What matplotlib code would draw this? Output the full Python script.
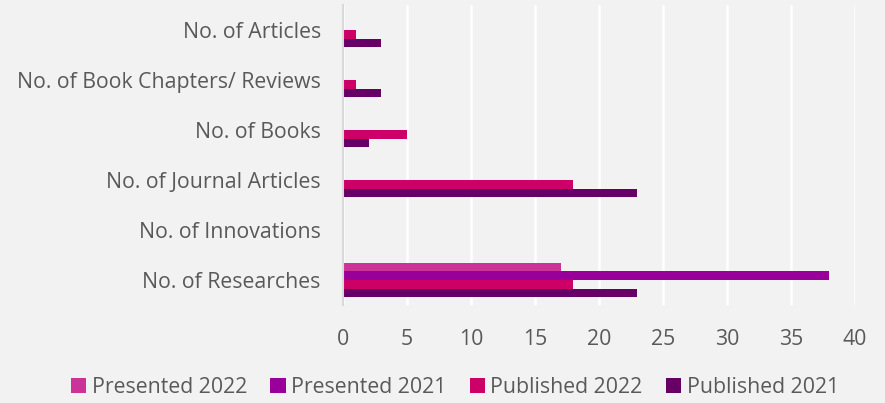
import matplotlib.pyplot as plt
import numpy as np

# ----------------------------------------------------------------------------
# Data (top to bottom in the chart)
# ----------------------------------------------------------------------------
categories = ["No. of Articles", "No. of Book Chapters/ Reviews", "No. of Books",
              "No. of Journal Articles", "No. of Innovations", "No. of Researches"]
presented_2022 = [0, 0, 0, 0, 0, 17]
presented_2021 = [0, 0, 0, 0, 0, 38]
published_2022 = [1, 1, 5, 18, 0, 18]
published_2021 = [3, 3, 2, 23, 0, 23]

series = [
    ("Presented 2022", presented_2022, "#CC3399"),
    ("Presented 2021", presented_2021, "#990099"),
    ("Published 2022", published_2022, "#CC0066"),
    ("Published 2021", published_2021, "#660066"),
]

plt.rcParams["font.family"] = ["Open Sans", "DejaVu Sans"]
text_color = "#595959"
bg = "#F2F2F2"
fs = 15.3

fig = plt.figure(figsize=(8.85, 4.03), dpi=100, facecolor=bg)
ax = fig.add_axes([0.3876, 0.2432, 0.5785, 0.7444], facecolor=bg)

y = np.arange(len(categories))
h = 0.172
for i, (label, vals, color) in enumerate(series):
    offset = (i - 1.5) * h
    ax.barh(y + offset, vals, height=h, color=color, label=label, zorder=3)

ax.set_xlim(0, 40)
ax.set_ylim(len(categories) - 0.5, -0.5)
ax.set_xticks(np.arange(0, 41, 5))
ax.set_yticks(y)
ax.set_yticklabels(categories)
ax.tick_params(axis="both", length=0, labelsize=fs, colors=text_color)
ax.tick_params(axis="y", pad=16)
ax.tick_params(axis="x", pad=17.5)
ax.grid(axis="x", color="white", lw=1.8, zorder=0)
for s in ["top", "right", "bottom"]:
    ax.spines[s].set_visible(False)
ax.spines["left"].set_color("#D9D9D9")
ax.spines["left"].set_linewidth(1.5)
ax.spines["left"].set_zorder(4)

fig.legend(loc="center", bbox_to_anchor=(0.514, 0.038), ncol=4, frameon=False,
           fontsize=fs, labelcolor=text_color, handlelength=0.72, handleheight=0.72,
           handletextpad=0.25, columnspacing=1.1)

fig.savefig("out.png", dpi=100, facecolor=bg)
